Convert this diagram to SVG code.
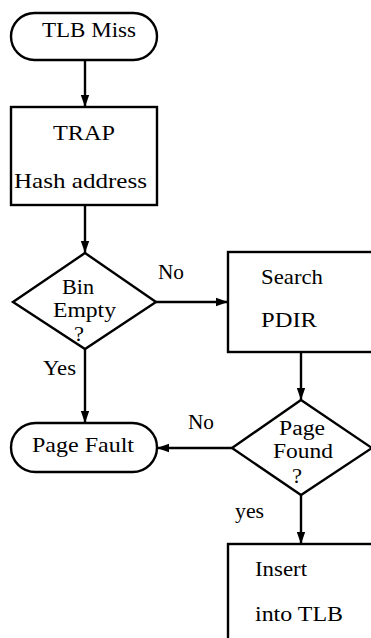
<svg xmlns="http://www.w3.org/2000/svg" width="371" height="638" viewBox="0 0 371 638">
<defs>
<marker id="arr" markerUnits="userSpaceOnUse" markerWidth="13" markerHeight="10" refX="12" refY="5" orient="auto">
<path d="M0,0.8 L12,5 L0,9.2 z" fill="#000"/>
</marker>
<style>
.s{fill:#fff;stroke:#000;stroke-width:2.4}
.c{fill:none;stroke:#000;stroke-width:2.4;marker-end:url(#arr)}
text{font-family:"Liberation Serif","DejaVu Serif",serif;font-size:21px;fill:#000}
.d{font-size:20px}
</style>
</defs>
<rect width="371" height="638" fill="#fff"/>
<g id="connectors">
<line class="c" x1="85" y1="60" x2="85" y2="107"/>
<line class="c" x1="85" y1="205" x2="85" y2="253"/>
<line class="c" x1="156" y1="302" x2="228" y2="302"/>
<line class="c" x1="85" y1="349" x2="85" y2="423"/>
<line class="c" x1="301" y1="352" x2="301" y2="400"/>
<line class="c" x1="232" y1="448" x2="157" y2="448"/>
<line class="c" x1="301" y1="495" x2="301" y2="544"/>
<text x="158" y="279" textLength="26" lengthAdjust="spacingAndGlyphs">No</text>
<text x="43" y="375" textLength="33" lengthAdjust="spacingAndGlyphs">Yes</text>
<text x="188" y="429" textLength="26" lengthAdjust="spacingAndGlyphs">No</text>
<text x="235" y="518" textLength="29" lengthAdjust="spacingAndGlyphs">yes</text>
</g>
<g id="tlbmiss">
<rect class="s" x="11" y="13" width="146" height="47" rx="23.5"/>
<text x="42" y="37" textLength="94" lengthAdjust="spacingAndGlyphs">TLB Miss</text>
</g>
<g id="trap">
<rect class="s" x="11" y="107" width="146" height="98"/>
<text x="53" y="140" textLength="62" lengthAdjust="spacingAndGlyphs">TRAP</text>
<text x="14" y="188" textLength="133" lengthAdjust="spacingAndGlyphs">Hash address</text>
</g>
<g id="binempty">
<polygon class="s" points="85,253 156,302 85,349 13,302"/>
<text class="d" x="62" y="294" textLength="32" lengthAdjust="spacingAndGlyphs">Bin</text>
<text class="d" x="53" y="317" textLength="63" lengthAdjust="spacingAndGlyphs">Empty</text>
<text class="d" x="74" y="341" textLength="10" lengthAdjust="spacingAndGlyphs">?</text>
</g>
<g id="searchpdir">
<rect class="s" x="228" y="252" width="160" height="100"/>
<text x="261" y="284" textLength="62" lengthAdjust="spacingAndGlyphs">Search</text>
<text x="261" y="327" textLength="56" lengthAdjust="spacingAndGlyphs">PDIR</text>
</g>
<g id="pagefault">
<rect class="s" x="11" y="423" width="146" height="49" rx="24.5"/>
<text x="32" y="452" textLength="102" lengthAdjust="spacingAndGlyphs">Page Fault</text>
</g>
<g id="pagefound">
<polygon class="s" points="301,400 372,448 301,495 232,448"/>
<text class="d" x="279" y="435" textLength="46" lengthAdjust="spacingAndGlyphs">Page</text>
<text class="d" x="273" y="458" textLength="60" lengthAdjust="spacingAndGlyphs">Found</text>
<text class="d" x="292" y="483" textLength="10" lengthAdjust="spacingAndGlyphs">?</text>
</g>
<g id="insert">
<rect class="s" x="228" y="544" width="160" height="110"/>
<text x="255" y="576" textLength="52" lengthAdjust="spacingAndGlyphs">Insert</text>
<text x="255" y="621" textLength="88" lengthAdjust="spacingAndGlyphs">into TLB</text>
</g>
</svg>
